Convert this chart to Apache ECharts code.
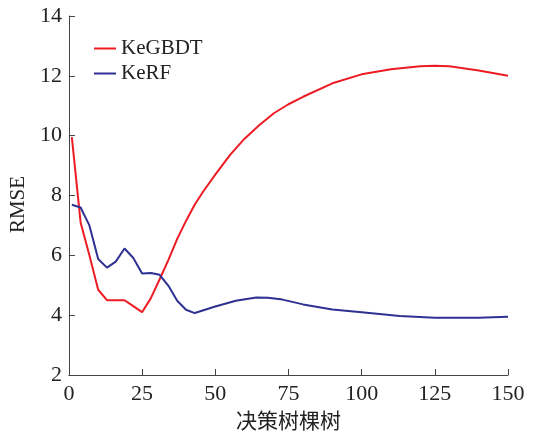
<!DOCTYPE html>
<html>
<head>
<meta charset="utf-8">
<script src="https://cdn.jsdelivr.net/npm/echarts@6/dist/echarts.min.js"></script>
<style>html,body{margin:0;padding:0;background:#fff}#c{width:539px;height:436px}</style>
</head>
<body>
<div id="c"></div>
<script>
const xTicks = [0, 25, 50, 75, 100, 125, 150];
const yTicks = [2, 4, 6, 8, 10, 12, 14];
const seriesNames = ['KeGBDT', 'KeRF'];
const kegbdtX = [1, 4, 7, 10, 13, 16, 19, 22, 25, 28, 31, 34, 37, 40, 43, 46, 50, 55, 60, 65, 70, 75, 80, 90, 100, 110, 120, 125, 130, 140, 150];
const kegbdtY = [9.95, 7.1, 6.0, 4.85, 4.5, 4.5, 4.5, 4.3, 4.1, 4.57, 5.2, 5.85, 6.55, 7.15, 7.7, 8.15, 8.7, 9.35, 9.9, 10.35, 10.75, 11.05, 11.3, 11.75, 12.05, 12.22, 12.32, 12.34, 12.32, 12.18, 12.0];
const kerfX = [1, 4, 7, 10, 13, 16, 19, 22, 25, 28, 31, 34, 37, 40, 43, 50, 57, 64, 68, 73, 80, 90, 100, 113, 125, 140, 150];
const kerfY = [7.69, 7.6, 7.0, 5.88, 5.59, 5.79, 6.23, 5.91, 5.39, 5.41, 5.35, 4.98, 4.48, 4.18, 4.07, 4.29, 4.48, 4.59, 4.58, 4.52, 4.36, 4.19, 4.1, 3.97, 3.91, 3.91, 3.95];

const font = 'Liberation Serif, Times New Roman, serif';
const axisColor = '#444';
const chart = echarts.init(document.getElementById('c'), null, {renderer: 'canvas'});
chart.setOption({
  animation: false,
  backgroundColor: '#fff',
  grid: {left: 66, right: 31, top: 16, bottom: 55, containLabel: false},
  legend: {
    orient: 'vertical', left: 94, top: 38, itemGap: 4, padding: 0,
    icon: 'rect', itemWidth: 22, itemHeight: 2,
    textStyle: {fontFamily: font, fontSize: 21, color: '#222', lineHeight: 21},
    data: seriesNames
  },
  xAxis: {
    type: 'value', min: xTicks[0], max: xTicks[xTicks.length - 1], interval: 25,
    name: '决策树棵树', nameLocation: 'middle', nameGap: 35,
    nameTextStyle: {fontFamily: 'Noto Sans CJK SC', fontSize: 21, color: '#222'},
    axisLine: {lineStyle: {color: axisColor, width: 1}},
    axisTick: {inside: true, length: 6, lineStyle: {color: axisColor}},
    axisLabel: {fontFamily: font, fontSize: 22, color: '#222', margin: 8},
    splitLine: {show: false}
  },
  yAxis: {
    type: 'value', min: yTicks[0], max: yTicks[yTicks.length - 1], interval: 2,
    name: 'RMSE', nameLocation: 'middle', nameGap: 31,
    nameTextStyle: {fontFamily: font, fontSize: 21, color: '#222', padding: [0, 18, 0, 0]},
    axisLine: {show: true, lineStyle: {color: axisColor, width: 1}},
    axisTick: {show: true, inside: true, length: 6, lineStyle: {color: axisColor}},
    axisLabel: {fontFamily: font, fontSize: 22, color: '#222', margin: 7},
    splitLine: {show: false}
  },
  series: [
    {
      name: seriesNames[0], type: 'line', showSymbol: false, symbol: 'none',
      lineStyle: {color: '#ed1c24', width: 2}, itemStyle: {color: '#ed1c24'},
      data: kegbdtX.map((x, i) => [x, kegbdtY[i]])
    },
    {
      name: seriesNames[1], type: 'line', showSymbol: false, symbol: 'none',
      lineStyle: {color: '#2e3192', width: 2}, itemStyle: {color: '#2e3192'},
      data: kerfX.map((x, i) => [x, kerfY[i]])
    }
  ]
});
</script>
</body>
</html>
